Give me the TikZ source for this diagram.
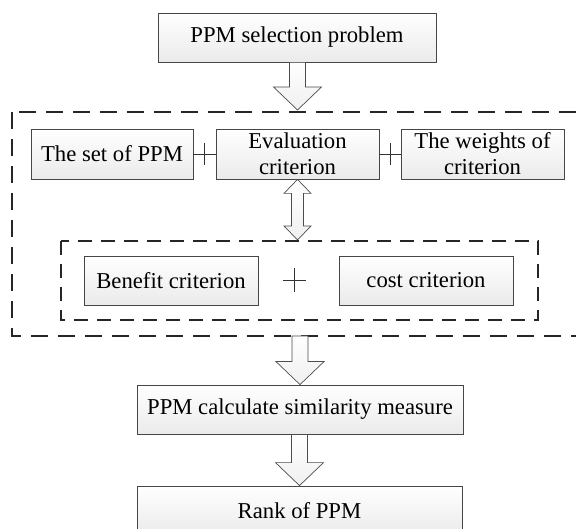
\documentclass[tikz,border=0pt]{standalone}
\usepackage{fontspec}
\setmainfont{Liberation Serif}
\usetikzlibrary{calc}
\tikzset{
  box/.style={draw=gray!55!black, line width=0.8pt, top color=white, bottom color=gray!16,
    minimum height=49pt, inner sep=0pt, align=center,
    font=\fontsize{22.7}{26}\selectfont},
  blockarrow/.style={draw=gray!60!black, line width=0.7pt, top color=white, bottom color=gray!12},
  dashbox/.style={draw=gray!30!black, line width=1.1pt},
  outerdash/.style={dashbox, dash pattern=on 17pt off 10pt},
  innerdash/.style={dashbox, dash pattern=on 14pt off 9pt},
  plusline/.style={draw=gray!40!black, line width=0.8pt}
}
\newcommand{\downblock}[2]{%
  \path[blockarrow] let \p1=(#1), \p2=(#2) in
    (\x2-8pt,\y1) -- (\x2+8pt,\y1) -- (\x2+8pt,\y2+23pt) -- (\x2+24pt,\y2+23pt)
    -- (\x2,\y2) -- (\x2-24pt,\y2+23pt) -- (\x2-8pt,\y2+23pt) -- cycle;}
\begin{document}
\begin{tikzpicture}[x=1pt,y=-1pt]
\useasboundingbox (0,0) rectangle (576,529);
\clip (0,0) rectangle (576,529);

% dashed groups
\draw[outerdash] (12,112) rectangle (610,336);
\draw[innerdash] (61,241) rectangle (538,320);

% nodes
\node[box, minimum width=278pt] (top) at (297,37.5) {PPM selection problem};
\node[box, minimum width=162pt, minimum height=50pt] (set) at (112,154) {The set of PPM};
\node[box, minimum width=163pt, minimum height=50pt] (eval) at (297.5,154) {Evaluation\\criterion};
\node[box, minimum width=163pt, minimum height=50pt] (weights) at (482.5,154) {The weights of\\criterion};
\node[box, minimum width=174pt] (benefit) at (171,280.5) {Benefit criterion};
\node[box, minimum width=174pt] (cost) at (426,280.5) {cost criterion};
\node[box, minimum width=326pt] (calc) at (300,409.5) {PPM calculate similarity measure};
\node[box, minimum width=325pt] (rank) at (299.5,510.5) {Rank of PPM};

\coordinate (outertop) at (297.5,110);
\coordinate (outerbot) at (300,336);
\coordinate (innertop) at (297.5,240);
\coordinate (plus) at (294,280.5);

% plus connectors
\draw[plusline] (set.east) -- (eval.west);
\draw[plusline] ($(set.east)!0.5!(eval.west)+(0,-11)$) -- +(0,22);
\draw[plusline] (eval.east) -- (weights.west);
\draw[plusline] ($(eval.east)!0.5!(weights.west)+(0,-11)$) -- +(0,22);
\draw[plusline] ($(plus)+(-11.5,0)$) -- ($(plus)+(11.5,0)$);
\draw[plusline] ($(plus)+(0,-12)$) -- ($(plus)+(0,12)$);

% block arrows
\downblock{top.south}{outertop}
\downblock{outerbot}{calc.north}
\downblock{calc.south}{rank.north}

% double block arrow
\path[blockarrow] let \p1=(eval.south), \p2=(innertop) in
  (\x1,\y1) -- (\x1+13.5pt,\y1-14pt) -- (\x1+6pt,\y1-14pt) -- (\x1+6pt,\y2+14pt)
  -- (\x1+13.5pt,\y2+14pt) -- (\x1,\y2) -- (\x1-13.5pt,\y2+14pt) -- (\x1-6pt,\y2+14pt)
  -- (\x1-6pt,\y1-14pt) -- (\x1-13.5pt,\y1-14pt) -- cycle;
\end{tikzpicture}
\end{document}
